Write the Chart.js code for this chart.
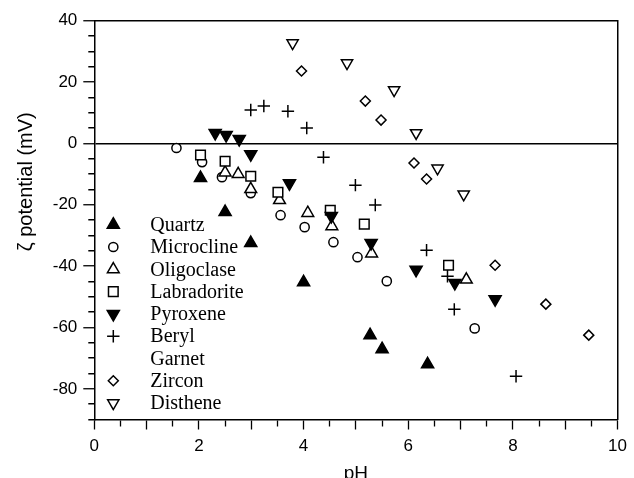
<!DOCTYPE html>
<html>
<head>
<meta charset="utf-8">
<script src="https://cdn.jsdelivr.net/npm/chart.js@4.4.1/dist/chart.umd.min.js"></script>
<style>
  html, body { margin: 0; padding: 0; background: #fff; }
  #wrap { width: 634px; height: 478px; }
</style>
</head>
<body>
<div id="wrap"><canvas id="chart"></canvas></div>
<script>
// zeta potential (mV) vs pH
const quartzPH = [2.03, 2.50, 2.99, 4.00, 5.27, 5.50, 6.37];
const quartzZeta = [-11.3, -22.4, -32.5, -45.3, -62.5, -67.1, -72.0];

const microclinePH = [1.57, 2.06, 2.44, 2.99, 3.56, 4.02, 4.57, 5.03, 5.59, 7.27];
const microclineZeta = [-1.5, -6.1, -11.0, -16.2, -23.4, -27.3, -32.2, -37.1, -44.9, -60.3];

const oligoclasePH = [2.50, 2.75, 2.99, 3.54, 4.08, 4.54, 5.30, 7.11];
const oligoclaseZeta = [-9.5, -10.0, -14.9, -18.5, -22.7, -27.0, -35.9, -44.4];

const labradoritePH = [2.03, 2.50, 2.99, 3.51, 4.51, 5.16, 6.77];
const labradoriteZeta = [-3.8, -5.8, -10.7, -15.9, -21.8, -26.3, -39.7];

const pyroxenePH = [2.31, 2.52, 2.77, 2.99, 3.73, 4.53, 5.29, 6.15, 6.89, 7.66];
const pyroxeneZeta = [3.4, 2.7, 1.4, -3.5, -13.0, -23.7, -32.5, -41.2, -45.5, -50.8];

const berylPH = [2.99, 3.24, 3.70, 4.06, 4.38, 4.99, 5.37, 6.35, 6.75, 6.88, 8.06];
const berylZeta = [10.9, 12.2, 10.5, 5.0, -4.5, -13.6, -20.1, -34.8, -43.3, -54.1, -75.9];

const garnetPH = [];
const garnetZeta = [];

const zirconPH = [3.96, 5.18, 5.48, 6.11, 6.35, 7.66, 8.63, 9.45];
const zirconZeta = [23.6, 13.8, 7.6, -6.4, -11.6, -39.7, -52.4, -62.5];

const disthenePH = [3.79, 4.83, 5.73, 6.15, 6.56, 7.06];
const disthenaZeta = [32.7, 26.2, 17.4, 3.4, -8.1, -16.6];

const seriesNames = ["Quartz", "Microcline", "Oligoclase", "Labradorite", "Pyroxene", "Beryl", "Garnet", "Zircon", "Disthene"];
const seriesPH = [quartzPH, microclinePH, oligoclasePH, labradoritePH, pyroxenePH, berylPH, garnetPH, zirconPH, disthenePH];
const seriesZeta = [quartzZeta, microclineZeta, oligoclaseZeta, labradoriteZeta, pyroxeneZeta, berylZeta, garnetZeta, zirconZeta, disthenaZeta];

const yTitle = "ζ potential (mV)";
const xTitle = "pH";

// marker look per series
const markers = [
  { style: "triangle", radius: 7, rotation: 0, fill: "#000" },
  { style: "circle", radius: 4.6, rotation: 0, fill: "#fff" },
  { style: "triangle", radius: 6.8, rotation: 0, fill: "#fff" },
  { style: "rect", radius: 6.8, rotation: 0, fill: "#fff" },
  { style: "triangle", radius: 7, rotation: 180, fill: "#000" },
  { style: "cross", radius: 6.2, rotation: 0, fill: "#fff" },
  { style: false, radius: 0, rotation: 0, fill: "#fff" },
  { style: "rectRot", radius: 5, rotation: 0, fill: "#fff" },
  { style: "triangle", radius: 6.5, rotation: 180, fill: "#fff" }
];

const datasets = seriesNames.map((name, i) => ({
  label: name,
  data: seriesPH[i].map((ph, k) => ({ x: ph, y: seriesZeta[i][k] })),
  pointStyle: markers[i].style,
  pointRadius: markers[i].radius,
  pointHoverRadius: markers[i].radius,
  pointRotation: markers[i].rotation,
  backgroundColor: markers[i].fill,
  borderColor: "#000",
  borderWidth: 1.5,
  showLine: false,
  order: -i, // later series drawn on top
}));

const sans = '"Liberation Sans", Arial, Helvetica, sans-serif';
const serif = '"Liberation Serif", "Times New Roman", serif';

// legend sits inside the plot, serif text, Garnet has no symbol
const insideLegend = {
  id: "insideLegend",
  afterDraw(chart) {
    const { ctx, chartArea } = chart;
    const mx = chartArea.left + 19;
    const tx = chartArea.left + 56;
    const y0 = chartArea.top + 204;
    const step = 22.3;
    ctx.save();
    ctx.font = "20px " + serif;
    ctx.textBaseline = "middle";
    ctx.textAlign = "left";
    seriesNames.forEach((name, i) => {
      const y = y0 + i * step;
      const m = markers[i];
      if (m.style) {
        ctx.fillStyle = m.fill;
        ctx.strokeStyle = "#000";
        ctx.lineWidth = 1.5;
        Chart.helpers.drawPoint(ctx, { pointStyle: m.style, radius: m.radius, rotation: m.rotation, borderWidth: 1.5 }, mx, y);
      }
      ctx.fillStyle = "#000";
      ctx.fillText(name, tx, y + 1);
    });
    ctx.restore();
  }
};

// y title sits above the middle of the axis in the original
const sideTitle = {
  id: "sideTitle",
  afterDraw(chart) {
    const { ctx, chartArea } = chart;
    ctx.save();
    ctx.translate(26, chartArea.top + 161);
    ctx.rotate(-Math.PI / 2);
    ctx.font = "20px " + sans;
    ctx.fillStyle = "#000";
    ctx.textAlign = "center";
    ctx.textBaseline = "middle";
    ctx.fillText(yTitle, 0, 0);
    ctx.restore();
  }
};

const isMajorX = (v) => Math.abs(v - Math.round(v)) < 1e-6;
const isMajorY = (v) => v % 20 === 0;

new Chart(document.getElementById("chart"), {
  type: "scatter",
  data: { datasets },
  plugins: [insideLegend, sideTitle],
  options: {
    responsive: true,
    maintainAspectRatio: false,
    animation: false,
    layout: { padding: 0 },
    plugins: {
      legend: { display: false },
      tooltip: { enabled: false },
    },
    scales: {
      x: {
        type: "linear",
        position: "bottom",
        min: 0,
        max: 10,
        afterFit: (s) => { s.height = 58.5; },
        ticks: {
          stepSize: 0.5,
          autoSkip: false,
          maxRotation: 0,
          padding: 7,
          color: "#000",
          font: { family: sans, size: 17 },
          callback: (v) => (Math.abs(v % 2) < 1e-6 ? String(v) : ""),
        },
        grid: {
          drawOnChartArea: false,
          tickLength: 10,
          tickColor: "#000",
          tickWidth: 1.3,
          tickBorderDash: (c) => (c.tick && isMajorX(c.tick.value) ? [] : [6, 100]),
        },
        border: { color: "#000", width: 1.5 },
        title: {
          display: true,
          text: xTitle,
          color: "#000",
          font: { family: sans, size: 19, lineHeight: 1 },
          padding: { top: 0, bottom: -5 },
        },
      },
      y: {
        type: "linear",
        position: "left",
        min: -90,
        max: 40,
        afterFit: (s) => { s.width = 94.3; },
        ticks: {
          stepSize: 5,
          autoSkip: false,
          padding: 6,
          color: "#000",
          font: { family: sans, size: 17 },
          callback: (v) => (isMajorY(v) && v !== -90 ? String(v) : ""),
        },
        grid: {
          drawOnChartArea: true,
          color: (c) => (c.tick && c.tick.value === 0 ? "#000" : "rgba(0,0,0,0)"),
          lineWidth: 1.5,
          tickLength: 11,
          tickColor: "#000",
          tickWidth: 1.3,
          tickBorderDash: (c) => (c.tick && isMajorY(c.tick.value) && c.tick.value !== -90 ? [] : [0, 5, 6, 100]),
        },
        border: { color: "#000", width: 1.5 },
      },
      xTop: {
        type: "linear",
        position: "top",
        min: 0,
        max: 10,
        afterFit: (s) => { s.height = 20.7; },
        ticks: { display: false },
        grid: { drawOnChartArea: false, drawTicks: false },
        border: { color: "#000", width: 1.5 },
      },
      yRight: {
        type: "linear",
        position: "right",
        min: -90,
        max: 40,
        afterFit: (s) => { s.width = 13; },
        ticks: { display: false },
        grid: { drawOnChartArea: false, drawTicks: false },
        border: { color: "#000", width: 1.5 },
      },
    },
  },
});
</script>
</body>
</html>
